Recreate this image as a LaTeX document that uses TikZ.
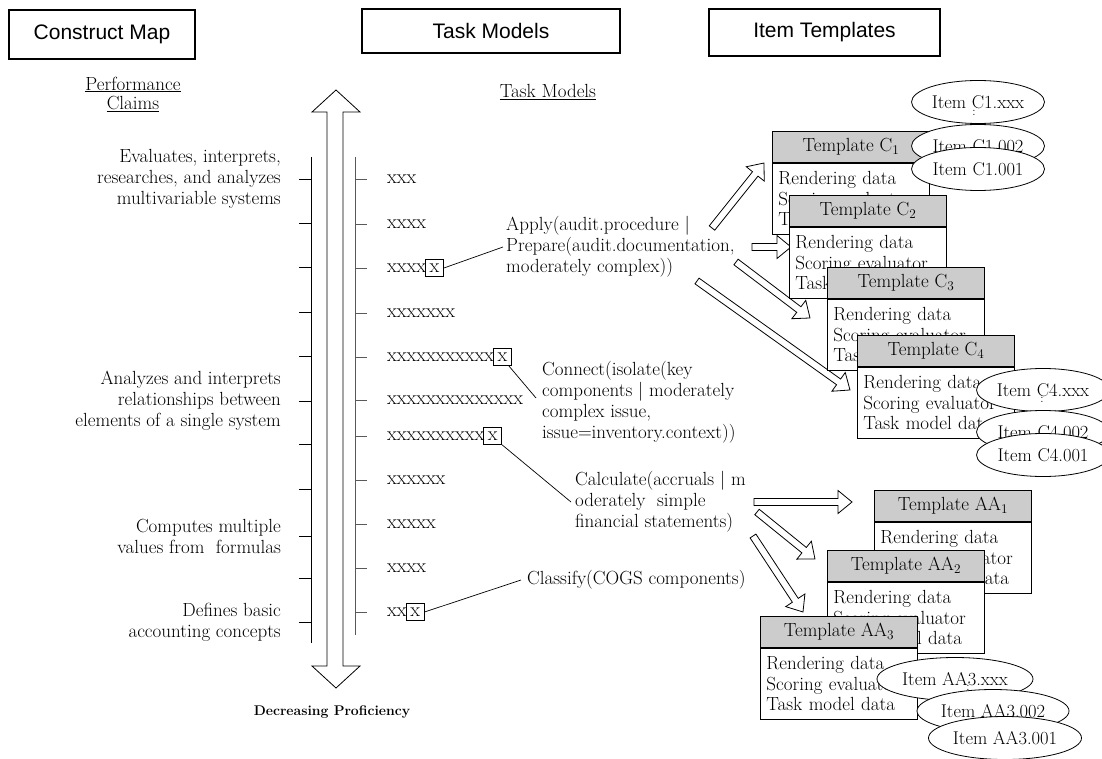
\documentclass[tikz,border=0pt]{standalone}
\usepackage{fontspec}
\newfontfamily\hdfont{Liberation Sans}
\usetikzlibrary{calc,shapes.geometric}
\tikzset{
  hdr/.style={draw, line width=1.3pt, inner sep=0, font=\hdfont\fontsize{21}{24}\selectfont},
  txt/.style={inner sep=0, align=left, anchor=west, font=\fontsize{19}{21}\selectfont},
  claim/.style={inner sep=0, align=right, anchor=east, font=\fontsize{19}{21}\selectfont},
  xrow/.style={inner sep=0, anchor=west, font=\fontsize{20}{21}\selectfont},
  xbox/.style={draw, line width=0.7pt, inner sep=0, minimum width=18, minimum height=17, anchor=west, font=\fontsize{20}{21}\selectfont},
  lead/.style={line width=0.7pt},
  tickl/.style={line width=0.9pt},
  tickr/.style={line width=0.9pt, black!65},
  thead/.style={draw, fill=black!20, line width=0.9pt, minimum width=157, minimum height=31, inner sep=0, anchor=north west, font=\fontsize{19}{21}\selectfont},
  tbody/.style={draw, fill=white, line width=0.9pt, minimum width=157, minimum height=71, text width=145, inner xsep=6, inner ysep=0, align=left, anchor=north west, font=\fontsize{19}{20.5}\selectfont},
  item/.style={draw, fill=white, ellipse, line width=0.8pt, minimum width=133, minimum height=43, inner sep=0, font=\fontsize{18.5}{21}\selectfont},
  vdots/.style={inner sep=0, font=\fontsize{12}{12}\selectfont},
  blk/.style={draw, fill=white, line width=0.8pt},
}
\newcommand\tmpl[4]{%
  \node[thead] (#1h) at (#2,#3) {Template #4};
  \node[tbody] (#1b) at (#1h.south west) {Rendering data\\Scoring evaluator\\Task model data};}
\newcommand\barrow[5]{%
  \draw[blk] let \p1=(#1), \p2=(#2), \n1={atan2(\y2-\y1,\x2-\x1)}, \n2={veclen(\x2-\x1,\y2-\y1)} in
  [rotate around={\n1:(\p1)}]
  (\x1,\y1+#3) -- (\x1+\n2-#5,\y1+#3) -- (\x1+\n2-#5,\y1+#4) -- (\x1+\n2,\y1)
  -- (\x1+\n2-#5,\y1-#4) -- (\x1+\n2-#5,\y1-#3) -- (\x1,\y1-#3) -- cycle;}
\begin{document}
\begin{tikzpicture}[x=1pt,y=-1pt]
\useasboundingbox (0,0) rectangle (1102,759);
\fill[white] (0,0) rectangle (1102,759);

% headers
\node[hdr, minimum width=186, minimum height=49] (hcm) at (102,34.5) {Construct Map};
\node[hdr, minimum width=258, minimum height=44] (htm) at (491,31) {Task Models};
\node[hdr, minimum width=231, minimum height=47] (hit) at (824.5,32.5) {Item Templates};

\node[inner sep=0, align=center, font=\fontsize{19}{19}\selectfont] (pc) at (133,94) {\underline{Performance}\\\underline{Claims}};
\node[inner sep=0, font=\fontsize{19}{21}\selectfont] (tmu) at (548,92) {\underline{Task Models}};

% big double arrow
\draw[line width=0.8pt, fill=white] (327,112) -- (312,112) -- (336,90) -- (360,112) -- (343,112) -- (343,666)
  -- (360,666) -- (336,688) -- (312,666) -- (327,666) -- cycle;
\node[inner sep=0, font=\bfseries\fontsize{14}{16}\selectfont] (dp) at (332,712) {Decreasing Proficiency};

% scales
\draw[line width=0.9pt] (311,157) -- (311,643);
\draw[line width=0.9pt, black!65] (355,157) -- (355,635);
\foreach \y in {179,223,267,312,356,401,444,489,536,578,622}
  \draw[tickl] (299,\y) -- (311,\y);
\foreach \y in {179,224,268,313,357,400,436,480,524,568,612}
  \draw[tickr] (355,\y) -- (367,\y);

% claims
\node[claim] (cl1) at (281,179) {Evaluates, interprets,\\researches, and analyzes\\multivariable systems};
\node[claim] (cl2) at (281,401) {Analyzes and interprets\\relationships between\\elements of a single system};
\node[claim] (cl3) at (281,536) {Computes multiple\\values from\ \ formulas};
\node[claim] (cl4) at (281,622) {Defines basic\\accounting concepts};

% x rows
\node[xrow] (r1) at (387,179) {xxx};
\node[xrow] (r2) at (387,224) {xxxx};
\node[xrow] (r3) at (387,268) {xxxx};
\node[xbox] (k3) at ($(r3.east)+(-1,0)$) {x};
\node[xrow] (r4) at (387,313) {xxxxxxx};
\node[xrow] (r5) at (387,357) {xxxxxxxxxxx};
\node[xbox] (k5) at ($(r5.east)+(-1,0)$) {x};
\node[xrow] (r6) at (387,400) {xxxxxxxxxxxxxx};
\node[xrow] (r7) at (387,436) {xxxxxxxxxx};
\node[xbox] (k7) at ($(r7.east)+(-1,0)$) {x};
\node[xrow] (r8) at (387,480) {xxxxxx};
\node[xrow] (r9) at (387,524) {xxxxx};
\node[xrow] (r10) at (387,568) {xxxx};
\node[xrow] (r11) at (387,612) {xx};
\node[xbox] (k11) at ($(r11.east)+(-1,0)$) {x};

% task model texts
\node[txt] (apply) at (506,247) {Apply(audit.procedure |\\Prepare(audit.documentation,\\moderately complex))};
\node[txt] (connect) at (542,402) {Connect(isolate(key\\components | moderately\\complex issue,\\issue=inventory.context))};
\node[txt] (calc) at (575,502) {Calculate(accruals | m\\oderately\ \ simple\\financial statements)};
\node[txt] (classify) at (527,580) {Classify(COGS components)};

% leader lines
\draw[lead] (k3.east) -- ($(apply.west)+(-3,0)$);
\draw[lead] ($(k5.south east)+(-3,0)$) -- ($(connect.west)+(-6,-4)$);
\draw[lead] (k7.south east) -- ($(calc.west)+(-4,0)$);
\draw[lead] (k11.east) -- ($(classify.west)+(-6,0)$);

% block arrow end points
\coordinate (a1s) at (712,228); \coordinate (a1e) at (764,163);
\coordinate (a2s) at (752,247); \coordinate (a2e) at (791,247);
\coordinate (a3s) at (736,262); \coordinate (a3e) at (810,318);
\coordinate (a4s) at (697,281); \coordinate (a4e) at (850,390);
\coordinate (b1s) at (754,502); \coordinate (b1e) at (852,502);
\coordinate (b2s) at (757,512); \coordinate (b2e) at (815,559);
\coordinate (b3s) at (753,536); \coordinate (b3e) at (803,612);
\barrow{a1s}{a1e}{3.5pt}{11.5pt}{14pt}
\barrow{a2s}{a2e}{3.5pt}{11.5pt}{14pt}
\barrow{a3s}{a3e}{3.5pt}{11.5pt}{14pt}
\barrow{a4s}{a4e}{3.5pt}{11.5pt}{14pt}
\barrow{b1s}{b1e}{3.5pt}{11.5pt}{14pt}
\barrow{b2s}{b2e}{3.5pt}{11.5pt}{14pt}
\barrow{b3s}{b3e}{3.5pt}{11.5pt}{14pt}

% templates C
\tmpl{c1}{772}{131}{C\textsubscript{1}}
\node[item] (c1x) at (978,102) {Item C1.xxx};
\node[vdots] (c1d) at (974,113) {:};
\node[item] (c12) at (978,146) {Item C1.002};
\node[item] (c11) at (978,169) {Item C1.001};
\tmpl{c2}{789}{195}{C\textsubscript{2}}
\tmpl{c3}{827}{267}{C\textsubscript{3}}
\tmpl{c4}{857}{335}{C\textsubscript{4}}
\node[item] (c4x) at (1043,390) {Item C4.xxx};
\node[vdots] (c4d) at (1042,400) {:};
\node[item] (c42) at (1043,432) {Item C4.002};
\node[item] (c41) at (1043,455) {Item C4.001};

% templates AA
\tmpl{aa1}{874}{490}{AA\textsubscript{1}}
\tmpl{aa2}{827}{550}{AA\textsubscript{2}}
\tmpl{aa3}{760}{616}{AA\textsubscript{3}}
\node[item, minimum width=156] (a3x) at (955,679) {Item AA3.xxx};
\node[vdots] (a3d) at (968,688) {:};
\node[item, minimum width=152] (a32) at (993,711) {Item AA3.002};
\node[item, minimum width=153] (a31) at (1005,738) {Item AA3.001};
\end{tikzpicture}
\end{document}
